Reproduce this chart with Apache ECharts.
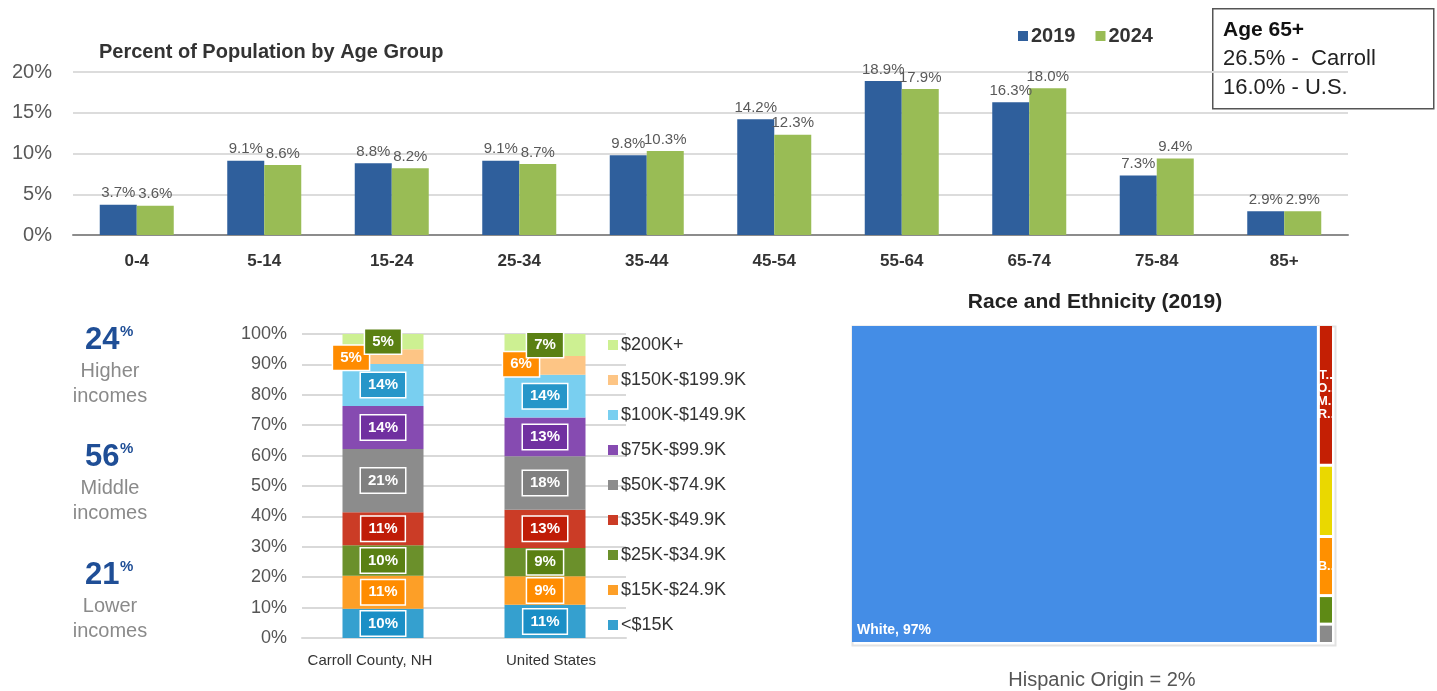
<!DOCTYPE html>
<html>
<head>
<meta charset="utf-8">
<script src="https://cdn.jsdelivr.net/npm/echarts@6/dist/echarts.min.js"></script>
<style>
  html, body { margin: 0; padding: 0; background: #fff; }
  #main { width: 1437px; height: 691px; }
</style>
</head>
<body>
<div id="main"></div>
<script>
// 年齡組人口比例
const ageGroups = ['0-4', '5-14', '15-24', '25-34', '35-44', '45-54', '55-64', '65-74', '75-84', '85+'];
const pop2019 = [3.7, 9.1, 8.8, 9.1, 9.8, 14.2, 18.9, 16.3, 7.3, 2.9];
const pop2024 = [3.6, 8.6, 8.2, 8.7, 10.3, 12.3, 17.9, 18.0, 9.4, 2.9];
const ageTicks = [0, 5, 10, 15, 20];

// 65歲以上
const age65Carroll = 26.5;
const age65US = 16.0;

// 收入分佈 (由下往上)
const incomeAreas = ['Carroll County, NH', 'United States'];
const incomeBrackets = ['<$15K', '$15K-$24.9K', '$25K-$34.9K', '$35K-$49.9K', '$50K-$74.9K',
  '$75K-$99.9K', '$100K-$149.9K', '$150K-$199.9K', '$200K+'];
const incomeCarroll = [9.6, 10.9, 10.0, 10.9, 20.8, 14.1, 13.8, 4.9, 5.0];
const incomeUS = [10.9, 9.4, 9.3, 12.6, 17.6, 12.7, 14.1, 6.2, 7.2];
const incomeTicks = [0, 10, 20, 30, 40, 50, 60, 70, 80, 90, 100];

// 收入等級摘要
const incomeGroupNames = ['Higher', 'Middle', 'Lower'];
const incomeGroupShares = [24, 56, 21];

// 種族
const raceNames = ['White', 'Two or More Races', 'Asian', 'Black', 'American Indian', 'Other'];
const raceValues = [96.8, 1.38, 0.70, 0.58, 0.28, 0.19];
const hispanicShare = 2;

const FONT = '"Liberation Sans", Arial, sans-serif';

const incomeColors = ['#35a0cf', '#fd9f27', '#6b902b', '#cb3c26', '#8c8c8c', '#864bb1', '#79cff0', '#fdc585', '#cdf092'];
const incomeLabelBg = ['#1a8fc6', '#ff8c00', '#5a8013', '#c01c07', '#808080', '#7030a0', '#2696c9', '#ff8c00', '#5a8013'];
// 頂部兩個小區段的標籤偏移
const labelOffsets = {
  7: [[-32, 1], [-24, -1]],
  8: [[0, 0], [0, 0]],
};

const raceColors = ['#448de6', '#c41f04', '#ead800', '#ff9000', '#5e8a15', '#8a8a8a'];
// 只在這些格子顯示縮寫標籤
const raceShowLabel = [true, true, false, true, false, false];

const chartDom = document.getElementById('main');
const myChart = echarts.init(chartDom);

const incomeSeries = incomeBrackets.map((name, i) => ({
  name: name,
  type: 'bar',
  stack: 'income',
  xAxisIndex: 1,
  yAxisIndex: 1,
  barWidth: 81,
  itemStyle: { color: incomeColors[i] },
  data: [incomeCarroll[i], incomeUS[i]].map((v, j) => ({
    value: v,
    label: {
      offset: labelOffsets[i] ? labelOffsets[i][j] : [0, 0],
    },
  })),
  label: {
    show: true,
    position: 'inside',
    formatter: p => Math.round(p.value) + '%',
    color: '#fff',
    fontWeight: 'bold',
    fontSize: 15,
    fontFamily: FONT,
    backgroundColor: incomeLabelBg[i],
    borderColor: '#fff',
    borderWidth: 1.5,
    padding: [5, 7, 4, 7],
  },
}));

// 左側收入摘要文字
const summaryTops = [339, 456, 574];
const summaryGraphics = [];
incomeGroupNames.forEach((name, i) => {
  const y = summaryTops[i];
  summaryGraphics.push(
    { type: 'text', x: 85, y: y - 14, style: { text: String(incomeGroupShares[i]), font: 'bold 31px ' + FONT, fill: '#1f4e96' } },
    { type: 'text', x: 120, y: y - 15, style: { text: '%', font: 'bold 15px ' + FONT, fill: '#1f4e96' } },
    { type: 'text', x: 110, y: y + 32, style: { text: name, font: '20px ' + FONT, fill: '#8a8a8a', textAlign: 'center', textVerticalAlign: 'middle' } },
    { type: 'text', x: 110, y: y + 57, style: { text: 'incomes', font: '20px ' + FONT, fill: '#8a8a8a', textAlign: 'center', textVerticalAlign: 'middle' } },
  );
});

const option = {
  animation: false,
  textStyle: { fontFamily: FONT },
  title: [
    {
      text: 'Percent of Population by Age Group',
      left: 94, top: 37,
      textStyle: { fontSize: 20, fontWeight: 'bold', color: '#333', fontFamily: FONT },
    },
    {
      text: 'Race and Ethnicity (2019)',
      left: 1090, top: 287, textAlign: 'center',
      textStyle: { fontSize: 21, fontWeight: 'bold', color: '#222', fontFamily: FONT },
    },
    {
      text: 'Hispanic Origin = ' + hispanicShare + '%',
      left: 1097, top: 665, textAlign: 'center',
      textStyle: { fontSize: 20, fontWeight: 'normal', color: '#555', fontFamily: FONT },
    },
  ],
  legend: [
    {
      data: ['2019', '2024'],
      left: 1013, top: 21,
      icon: 'rect', itemWidth: 10, itemHeight: 10, itemGap: 20,
      textStyle: { fontSize: 20, fontWeight: 'bold', color: '#333', fontFamily: FONT, padding: [0, 0, 0, -2] },
      selectedMode: false,
    },
    {
      data: incomeBrackets.slice().reverse(),
      orient: 'vertical',
      left: 603, top: 331,
      icon: 'rect', itemWidth: 10, itemHeight: 10, itemGap: 17,
      textStyle: { fontSize: 18, color: '#333', fontFamily: FONT, lineHeight: 18, padding: [0, 0, 0, -2] },
      selectedMode: false,
    },
  ],
  grid: [
    { left: 73, top: 72, width: 1275, height: 163 },
    { left: 302, top: 334, width: 324, height: 304 },
  ],
  xAxis: [
    {
      type: 'category', gridIndex: 0, data: ageGroups,
      axisTick: { show: false },
      axisLine: { lineStyle: { color: '#8c8c8c', width: 2 } },
      axisLabel: { fontSize: 17, fontWeight: 'bold', color: '#333', margin: 18 },
    },
    {
      type: 'category', gridIndex: 1,
      data: [
        { value: incomeAreas[0], textStyle: { padding: [0, 26, 0, 0] } },
        { value: incomeAreas[1], textStyle: { padding: [0, 0, 0, 12] } },
      ],
      axisTick: { show: false },
      axisLine: { lineStyle: { color: '#d9d9d9', width: 2 } },
      axisLabel: { fontSize: 15, color: '#333', margin: 15, interval: 0 },
    },
  ],
  yAxis: [
    {
      type: 'value', gridIndex: 0,
      min: ageTicks[0], max: ageTicks[ageTicks.length - 1], interval: 5,
      axisLabel: { formatter: '{value}%', fontSize: 20, color: '#595959', margin: 21 },
      splitLine: { lineStyle: { color: '#dcdcdc', width: 2 } },
    },
    {
      type: 'value', gridIndex: 1,
      min: incomeTicks[0], max: incomeTicks[incomeTicks.length - 1], interval: 10,
      axisLabel: { formatter: '{value}%', fontSize: 18, color: '#555', margin: 15 },
      splitLine: { lineStyle: { color: '#d9d9d9', width: 2 } },
    },
  ],
  series: [
    {
      name: '2019', type: 'bar', data: pop2019,
      barWidth: 37, barGap: '0%',
      itemStyle: { color: '#2f5f9c' },
      label: { show: true, position: 'top', distance: 4, formatter: p => p.value.toFixed(1) + '%', fontSize: 15, color: '#595959' },
    },
    {
      name: '2024', type: 'bar', data: pop2024,
      barWidth: 37, barGap: '0%',
      itemStyle: { color: '#99bc55' },
      label: { show: true, position: 'top', distance: 4, formatter: p => p.value.toFixed(1) + '%', fontSize: 15, color: '#595959' },
    },
    ...incomeSeries,
    {
      type: 'treemap',
      left: 852, top: 326, width: 480, height: 316,
      roam: false, nodeClick: false,
      breadcrumb: { show: false },
      visibleMin: 0,
      levels: [
        { itemStyle: { gapWidth: 3, borderWidth: 0, borderColor: '#fff' } },
      ],
      label: {
        show: true,
        position: 'inside',
        color: '#fff', fontWeight: 'bold', fontSize: 13,
        overflow: 'none',
        formatter: p => p.name.split(' ').map(w => w[0].toUpperCase() + '..').join('\n'),
      },
      data: raceNames.map((name, i) => ({
        name: name,
        value: raceValues[i],
        itemStyle: { color: raceColors[i] },
        label: i === 0 ? {
          position: 'insideBottomLeft',
          formatter: p => p.name + ', ' + Math.round(p.value) + '%',
          fontSize: 14,
        } : { show: raceShowLabel[i] },
      })),
    },
  ],
  graphic: [
    // Age 65+ box
    { type: 'rect', left: 1212, top: 8, shape: { width: 221, height: 100 }, style: { fill: '#fff', stroke: '#555', lineWidth: 1.5 } },
    { type: 'text', left: 1223, top: 20, style: { text: 'Age 65+', font: 'bold 21px ' + FONT, fill: '#111' } },
    { type: 'text', left: 1223, top: 48, style: { text: age65Carroll.toFixed(1) + '% -  Carroll', font: '22px ' + FONT, fill: '#222' } },
    { type: 'text', left: 1223, top: 77, style: { text: age65US.toFixed(1) + '% - U.S.', font: '22px ' + FONT, fill: '#222' } },
    // treemap outer frame
    { type: 'rect', left: 850, top: 324, shape: { width: 483, height: 319 }, style: { fill: 'none', stroke: '#e2e2e2', lineWidth: 2 }, z: -1 },
    ...summaryGraphics,
  ],
};

myChart.setOption(option);
</script>
</body>
</html>
